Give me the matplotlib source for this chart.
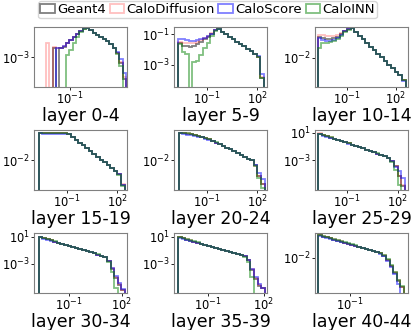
import numpy as np
import matplotlib
matplotlib.use('Agg')
from matplotlib import pyplot as plt
from matplotlib.patches import Patch
from matplotlib.ticker import NullLocator

# labels
LABELS = ['Geant4', 'CaloDiffusion', 'CaloScore', 'CaloINN']
TITLES = ['layer 0-4', 'layer 5-9', 'layer 10-14',
          'layer 15-19', 'layer 20-24', 'layer 25-29',
          'layer 30-34', 'layer 35-39', 'layer 40-44']

# bin range per panel, log10 of energy (24 log bins each)
BIN_LO = [-2.1, -2.7, -2.8, -2.65, -2.65, -2.7, -2.67, -2.58, -2.45]
BIN_HI = [1.55, 2.4, 2.6, 2.45, 2.45, 2.4, 2.17, 2.05, 1.45]

# log10 of the normalised counts (-9 = empty bin)
# layer 0-4
L0_G4 = [-9, -9, -2.4, -9, -2.45, -2.33, -2.13, -1.93, -1.73, -1.53, -1.33, -1.17,
         -1.13, -1.27, -1.43, -1.57, -1.7, -1.83, -1.97, -2.17, -2.43, -2.73, -3.4, -4.4]
L0_DIFF = [-2.07, -9, -2.33, -2.45, -2.4, -2.3, -2.1, -1.9, -1.7, -1.5, -1.32, -1.15,
           -1.12, -1.27, -1.43, -1.57, -1.7, -1.83, -1.97, -2.17, -2.43, -2.73, -3.3, -4.3]
L0_SCORE = [-9, -9, -9, -2.4, -2.4, -2.28, -2.08, -1.88, -1.7, -1.5, -1.32, -1.16,
            -1.13, -1.27, -1.43, -1.57, -1.7, -1.83, -1.97, -2.17, -2.43, -2.7, -3.1, -4.0]
L0_INN = [-9, -9, -9, -9, -9, -9, -2.87, -2.53, -2.13, -1.7, -1.4, -1.2,
          -1.14, -1.27, -1.43, -1.57, -1.7, -1.83, -1.97, -2.17, -2.45, -2.8, -3.6, -9]
# layer 5-9
L1_G4 = [-1.6, -1.75, -1.8, -1.85, -1.8, -1.65, -1.5, -1.33, -1.17, -0.97, -0.75, -0.63,
         -0.85, -1.01, -1.17, -1.33, -1.49, -1.65, -1.81, -1.97, -2.13, -2.29, -2.47, -3.9]
L1_DIFF = [-1.5, -1.55, -1.6, -1.6, -1.55, -1.5, -1.4, -1.28, -1.13, -0.95, -0.73, -0.62,
           -0.85, -1.01, -1.17, -1.33, -1.49, -1.65, -1.81, -1.97, -2.13, -2.29, -2.47, -3.8]
L1_SCORE = [-1.3, -1.35, -1.4, -1.45, -1.45, -1.4, -1.35, -1.28, -1.15, -0.97, -0.75, -0.63,
            -0.86, -1.02, -1.17, -1.33, -1.49, -1.65, -1.81, -1.97, -2.13, -2.29, -2.45, -3.6]
L1_INN = [-1.65, -2.2, -2.3, -9, -2.8, -2.75, -2.4, -1.9, -1.6, -1.15, -0.82, -0.66,
          -0.85, -1.01, -1.17, -1.33, -1.49, -1.65, -1.81, -1.97, -2.13, -2.29, -2.47, -3.85]
# layer 10-14
L2_G4 = [-0.75, -0.81, -0.875, -0.875, -0.81, -0.72, -0.56, -0.375, -0.25, -0.19, -0.44, -0.66,
         -0.88, -1.11, -1.33, -1.55, -1.76, -1.99, -2.21, -2.44, -2.65, -2.875, -3.1, -3.4]
L2_DIFF = [-0.6, -0.62, -0.68, -0.7, -0.68, -0.62, -0.5, -0.35, -0.24, -0.18, -0.44, -0.66,
           -0.88, -1.11, -1.33, -1.55, -1.76, -1.99, -2.21, -2.44, -2.65, -2.875, -3.1, -3.4]
L2_SCORE = [-0.78, -0.95, -1.0, -0.98, -0.9, -0.78, -0.6, -0.4, -0.26, -0.19, -0.44, -0.66,
            -0.88, -1.11, -1.33, -1.55, -1.76, -1.99, -2.21, -2.44, -2.65, -2.875, -3.1, -3.45]
L2_INN = [-1.4, -1.1, -1.1, -1.05, -0.98, -0.85, -0.68, -0.46, -0.3, -0.2, -0.44, -0.66,
          -0.88, -1.11, -1.33, -1.55, -1.76, -1.99, -2.21, -2.44, -2.65, -2.875, -3.1, -3.4]
# layer 15-19
L3_G4 = [0.33, 0.31, 0.3, 0.3, 0.3, 0.3, 0.3, 0.3, 0.23, -0.01, -0.25, -0.48,
         -0.72, -0.97, -1.21, -1.45, -1.68, -1.92, -2.17, -2.41, -2.65, -2.88, -3.17, -4.1]
L3_DIFF = [0.36, 0.35, 0.34, 0.34, 0.33, 0.33, 0.33, 0.32, 0.24, -0.01, -0.25, -0.48,
           -0.72, -0.97, -1.21, -1.45, -1.68, -1.92, -2.17, -2.41, -2.65, -2.88, -3.17, -4.0]
L3_SCORE = [0.3, 0.25, 0.23, 0.22, 0.22, 0.23, 0.25, 0.27, 0.22, -0.01, -0.25, -0.48,
            -0.72, -0.97, -1.21, -1.45, -1.68, -1.92, -2.17, -2.41, -2.65, -2.88, -3.15, -4.1]
L3_INN = [0.33, 0.32, 0.31, 0.31, 0.3, 0.3, 0.3, 0.3, 0.23, -0.01, -0.25, -0.48,
          -0.72, -0.97, -1.21, -1.45, -1.68, -1.92, -2.17, -2.41, -2.65, -2.88, -3.2, -4.2]
# layer 20-24
L4_G4 = [0.33, 0.31, 0.27, 0.22, 0.17, 0.1, 0.0, -0.11, -0.22, -0.35, -0.48, -0.63,
         -0.77, -0.92, -1.07, -1.22, -1.37, -1.53, -1.68, -1.84, -2.0, -2.42, -3.33, -4.0]
L4_DIFF = [0.35, 0.33, 0.29, 0.24, 0.18, 0.11, 0.01, -0.1, -0.21, -0.34, -0.48, -0.63,
           -0.77, -0.92, -1.07, -1.22, -1.37, -1.53, -1.68, -1.84, -2.0, -2.45, -3.3, -4.0]
L4_SCORE = [0.3, 0.24, 0.18, 0.12, 0.07, 0.02, -0.05, -0.14, -0.24, -0.36, -0.49, -0.63,
            -0.77, -0.92, -1.07, -1.22, -1.37, -1.53, -1.68, -1.84, -2.0, -2.4, -3.08, -3.6]
L4_INN = [0.35, 0.33, 0.29, 0.24, 0.18, 0.11, 0.01, -0.1, -0.21, -0.34, -0.47, -0.62,
          -0.76, -0.91, -1.06, -1.21, -1.37, -1.53, -1.68, -1.84, -2.0, -2.5, -3.45, -4.3]
# layer 25-29
L5_G4 = [0.86, 0.69, 0.51, 0.34, 0.17, -0.01, -0.19, -0.36, -0.53, -0.7, -0.89, -1.06,
         -1.24, -1.43, -1.61, -1.8, -1.99, -2.17, -2.37, -2.64, -3.07, -3.86, -5.29, -6.7]
L5_DIFF = [0.95, 0.75, 0.55, 0.37, 0.19, 0.0, -0.18, -0.35, -0.53, -0.7, -0.89, -1.06,
           -1.24, -1.43, -1.61, -1.8, -1.99, -2.17, -2.37, -2.64, -3.05, -3.8, -5.2, -6.5]
L5_SCORE = [0.8, 0.6, 0.42, 0.26, 0.1, -0.06, -0.22, -0.38, -0.54, -0.71, -0.89, -1.06,
            -1.24, -1.43, -1.61, -1.8, -1.99, -2.17, -2.37, -2.62, -3.05, -3.9, -4.6, -5.6]
L5_INN = [0.88, 0.7, 0.52, 0.35, 0.18, 0.0, -0.18, -0.35, -0.52, -0.69, -0.88, -1.05,
          -1.23, -1.42, -1.6, -1.79, -1.98, -2.16, -2.37, -2.68, -3.2, -4.4, -6.5, -9]
# layer 30-34
L6_G4 = [1.0, 0.81, 0.64, 0.48, 0.32, 0.16, -0.01, -0.17, -0.32, -0.48, -0.64, -0.81,
         -0.97, -1.13, -1.28, -1.44, -1.61, -1.77, -1.96, -2.56, -3.67, -5.07, -6.11, -6.85]
L6_DIFF = [1.05, 0.85, 0.67, 0.5, 0.33, 0.17, 0.0, -0.16, -0.32, -0.48, -0.64, -0.81,
           -0.97, -1.13, -1.28, -1.44, -1.61, -1.77, -1.95, -2.55, -3.6, -5.0, -6.0, -6.8]
L6_SCORE = [0.95, 0.76, 0.6, 0.44, 0.29, 0.13, -0.03, -0.19, -0.34, -0.5, -0.65, -0.82,
            -0.98, -1.13, -1.28, -1.44, -1.6, -1.76, -1.94, -2.5, -3.6, -4.8, -5.8, -6.7]
L6_INN = [1.02, 0.84, 0.67, 0.51, 0.34, 0.18, 0.01, -0.15, -0.3, -0.46, -0.62, -0.79,
          -0.95, -1.11, -1.26, -1.42, -1.59, -1.76, -2.0, -2.7, -4.2, -6.6, -9, -9]
# layer 35-39
L7_G4 = [0.93, 0.78, 0.61, 0.47, 0.31, 0.16, -0.01, -0.16, -0.32, -0.47, -0.63, -0.78,
         -0.94, -1.08, -1.24, -1.39, -1.56, -1.7, -1.87, -2.48, -3.89, -5.22, -6.26, -6.63]
L7_DIFF = [0.98, 0.82, 0.64, 0.49, 0.33, 0.17, 0.0, -0.15, -0.31, -0.46, -0.62, -0.78,
           -0.94, -1.08, -1.24, -1.39, -1.56, -1.7, -1.87, -2.45, -3.8, -5.1, -6.1, -6.6]
L7_SCORE = [0.9, 0.74, 0.58, 0.44, 0.29, 0.14, -0.03, -0.18, -0.34, -0.48, -0.64, -0.79,
            -0.95, -1.09, -1.24, -1.39, -1.55, -1.7, -1.86, -2.4, -3.7, -5.0, -6.0, -6.5]
L7_INN = [0.95, 0.8, 0.64, 0.5, 0.34, 0.19, 0.02, -0.13, -0.29, -0.44, -0.6, -0.75,
          -0.91, -1.06, -1.22, -1.38, -1.56, -1.74, -1.95, -2.7, -5.0, -9, -9, -9]
# layer 40-44
L8_G4 = [-0.27, -0.35, -0.42, -0.5, -0.58, -0.66, -0.75, -0.82, -0.9, -0.98, -1.06, -1.14,
         -1.22, -1.29, -1.37, -1.45, -1.53, -1.64, -1.81, -2.15, -2.62, -3.15, -3.77, -4.23]
L8_DIFF = [-0.22, -0.31, -0.39, -0.47, -0.56, -0.64, -0.73, -0.81, -0.89, -0.97, -1.05, -1.13,
           -1.21, -1.29, -1.37, -1.45, -1.53, -1.63, -1.8, -2.12, -2.58, -3.1, -3.7, -4.2]
L8_SCORE = [-0.3, -0.38, -0.46, -0.54, -0.61, -0.69, -0.77, -0.84, -0.92, -0.99, -1.07, -1.15,
            -1.23, -1.3, -1.38, -1.46, -1.54, -1.66, -1.84, -2.2, -2.7, -3.25, -4.0, -9]
L8_INN = [-0.27, -0.33, -0.4, -0.47, -0.55, -0.63, -0.71, -0.79, -0.87, -0.95, -1.04, -1.12,
          -1.2, -1.28, -1.36, -1.44, -1.53, -1.64, -1.8, -2.1, -2.55, -3.1, -3.7, -4.15]

PANELS = [
    (L0_G4, L0_DIFF, L0_SCORE, L0_INN),
    (L1_G4, L1_DIFF, L1_SCORE, L1_INN),
    (L2_G4, L2_DIFF, L2_SCORE, L2_INN),
    (L3_G4, L3_DIFF, L3_SCORE, L3_INN),
    (L4_G4, L4_DIFF, L4_SCORE, L4_INN),
    (L5_G4, L5_DIFF, L5_SCORE, L5_INN),
    (L6_G4, L6_DIFF, L6_SCORE, L6_INN),
    (L7_G4, L7_DIFF, L7_SCORE, L7_INN),
    (L8_G4, L8_DIFF, L8_SCORE, L8_INN),
]

# axis ranges (log10) and ticks
XLIM = [(-2.64, 1.59), (-2.94, 2.59), (-2.96, 2.74),
        (-2.94, 2.59), (-2.94, 2.59), (-2.88, 2.59),
        (-2.94, 2.28), (-2.79, 2.16), (-2.59, 1.64)]
YLIM = [(-4.93, -1.07), (-4.47, -0.53), (-3.81, -0.125),
        (-4.5, 0.58), (-4.5, 0.58), (-7.29, 1.43),
        (-7.3, 1.59), (-7.3, 1.59), (-4.69, -0.08)]
XTICKS = [[-1], [-1, 2], [-1, 2], [-1, 2], [-1, 2], [-1, 2], [-1, 2], [-1, 2], [-1]]
YTICKS = [[-3], [-1, -3], [-2], [-2], [-2], [1, -3], [1, -3], [1, -3], [-2]]

COLORS = ['black', 'red', 'blue', 'green']
ALPHAS = [0.5, 0.25, 0.5, 0.5]

W, H = 415, 330
COL_X = [34, 174, 315]
ROW_Y = [27, 130, 233]
AX_W, AX_H = 93, 60

fig = plt.figure(figsize=(W / 100, H / 100), dpi=100)

for k, series in enumerate(PANELS):
    r, c = divmod(k, 3)
    ax = fig.add_axes([COL_X[c] / W, 1 - (ROW_Y[r] + AX_H) / H, AX_W / W, AX_H / H])
    edges = np.logspace(BIN_LO[k], BIN_HI[k], len(series[0]) + 1)
    for vals, col, al in zip(series, COLORS, ALPHAS):
        ax.stairs(10.0 ** np.array(vals), edges, baseline=1e-12,
                  color=col, alpha=al, lw=1.3)
    ax.set_xscale('log')
    ax.set_yscale('log')
    ax.set_xlim(10.0 ** XLIM[k][0], 10.0 ** XLIM[k][1])
    ax.set_ylim(10.0 ** YLIM[k][0], 10.0 ** YLIM[k][1])
    ax.set_xticks([10.0 ** t for t in XTICKS[k]])
    ax.set_yticks([10.0 ** t for t in YTICKS[k]])
    ax.xaxis.set_minor_locator(NullLocator())
    ax.yaxis.set_minor_locator(NullLocator())
    ax.tick_params(labelsize=8.3, length=2, width=0.6, pad=1)
    for sp in ax.spines.values():
        sp.set_color('0.5')
        sp.set_linewidth(0.8)
    ax.set_xlabel(TITLES[k], fontsize=12.5, labelpad=-0.8)

handles = [Patch(facecolor='none', edgecolor=c, alpha=a, lw=1.3)
           for c, a in zip(COLORS, ALPHAS)]
fig.legend(handles, LABELS, loc='upper center', bbox_to_anchor=(0.5, 1.0), ncol=4,
           fontsize=9.5, handlelength=1.1, handletextpad=0.15, columnspacing=0.3,
           borderpad=0.15, borderaxespad=0.1, frameon=True)

fig.savefig('out.png', dpi=100)
